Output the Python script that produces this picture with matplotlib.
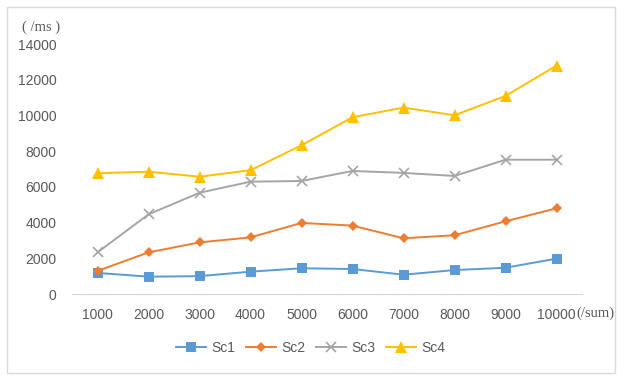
import matplotlib.pyplot as plt
import matplotlib.patches as patches

sizes = ['1000', '2000', '3000', '4000', '5000', '6000', '7000', '8000', '9000', '10000']
sc1 = [1180, 970, 1000, 1250, 1440, 1400, 1080, 1340, 1470, 1980]
sc2 = [1290, 2330, 2890, 3170, 3980, 3830, 3120, 3290, 4070, 4800]
sc3 = [2330, 4460, 5670, 6290, 6330, 6890, 6780, 6610, 7520, 7520]
sc4 = [6760, 6850, 6570, 6930, 8330, 9900, 10440, 10010, 11090, 12790]

W, H = 621, 376
fig = plt.figure(figsize=(W / 100, H / 100), dpi=100)
fig.patch.set_facecolor('white')
fig.add_artist(patches.Rectangle((7 / W, 1 - 373 / H), 608 / W, 366 / H,
                                 transform=fig.transFigure, fill=False,
                                 edgecolor='#d9d9d9', linewidth=1))

ax = fig.add_axes([72 / W, 1 - 294 / H, 510 / W, 250 / H])
x = list(range(len(sizes)))
styles = [
    ('Sc1', sc1, '#5B9BD5', 's', 7),
    ('Sc2', sc2, '#ED7D31', 'D', 5.5),
    ('Sc3', sc3, '#A5A5A5', 'x', 7),
    ('Sc4', sc4, '#FFC000', '^', 8),
]
for name, vals, col, mk, ms in styles:
    ax.plot(x, vals, color=col, marker=mk, markersize=ms, linewidth=1.4,
            markeredgewidth=1.2 if mk == 'x' else 0, label=name)

ax.set_xlim(-0.5, len(sizes) - 0.5)
ax.set_ylim(0, 14000)
ax.set_yticks(range(0, 14001, 2000))
ax.set_xticks(x)
ax.set_xticklabels(sizes)
for s in ['top', 'right', 'left']:
    ax.spines[s].set_visible(False)
ax.spines['bottom'].set_color('#d9d9d9')
ax.tick_params(length=0, labelsize=10, colors='#595959')
for lbl in ax.get_xticklabels() + ax.get_yticklabels():
    lbl.set_family('Liberation Sans')
ax.tick_params(axis='y', pad=11)
ax.tick_params(axis='x', pad=10)

fig.text(22 / W, 1 - 27 / H, '( /ms )', family='Liberation Serif', fontsize=10.5,
         color='#595959', va='center')
fig.text(576 / W, 1 - 313 / H, '(/sum)', family='Liberation Serif', fontsize=10.5,
         color='#595959', va='center')

fig.legend(loc='center', bbox_to_anchor=(0.5, 1 - 348 / H), ncol=4,
           frameon=False, handlelength=2.2, columnspacing=0.75,
           handletextpad=0.36, labelcolor='#595959',
           prop={'family': 'Liberation Sans', 'size': 10})

fig.savefig('out.png', dpi=100)
